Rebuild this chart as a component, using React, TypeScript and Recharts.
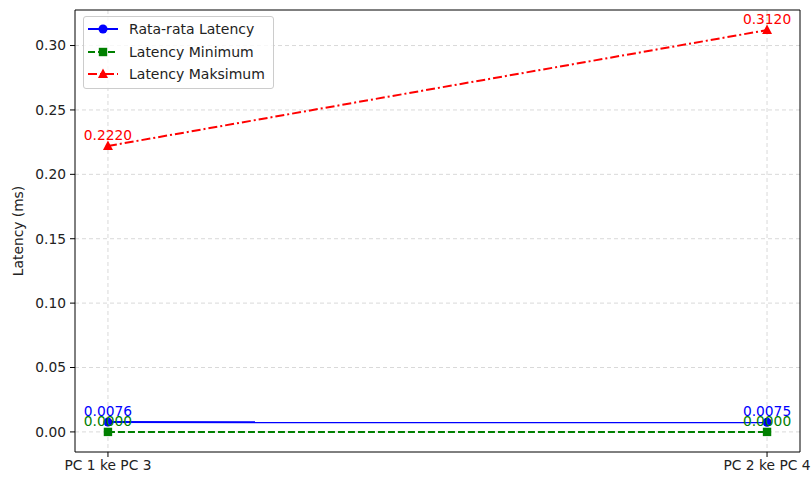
import React from "react";
import {
  Label,
  LabelList,
  Legend,
  Line,
  LineChart,
  CartesianGrid,
  ReferenceArea,
  XAxis,
  YAxis
} from "recharts";

const categories = ["PC 1 ke PC 3", "PC 2 ke PC 4"];
const avgLatency = [0.0076, 0.0075];
const minLatency = [0.0, 0.0];
const maxLatency = [0.222, 0.312];
const yTicks = [0, 0.05, 0.1, 0.15, 0.2, 0.25, 0.3];

const data = categories.map((name, i) => ({
  idx: i,
  name,
  avg: avgLatency[i],
  min: minLatency[i],
  max: maxLatency[i]
}));

const font = "'DejaVu Sans', sans-serif";
const X_DOMAIN: [number, number] = [-0.05, 1.05];
const span = 0.312;
const Y_DOMAIN: [number, number] = [-0.05 * span, 0.312 + 0.05 * span];

const series = [
  { key: "avg", name: "Rata-rata Latency", color: "#0000ff", dash: undefined, marker: "circle" },
  { key: "min", name: "Latency Minimum", color: "#008000", dash: "7 3", marker: "square" },
  { key: "max", name: "Latency Maksimum", color: "#ff0000", dash: "9 3 2 3", marker: "triangle" }
];

function Marker({ type, cx, cy, color }: { type: string; cx: number; cy: number; color: string }) {
  if (type === "square") return <rect x={cx - 4.2} y={cy - 4.2} width={8.4} height={8.4} fill={color} />;
  if (type === "triangle")
    return <polygon points={`${cx},${cy - 5.5} ${cx + 5},${cy + 4} ${cx - 5},${cy + 4}`} fill={color} />;
  return <circle cx={cx} cy={cy} r={4.5} fill={color} />;
}

const makeDot = (type: string, color: string) => (props: any) =>
  <Marker key={props.index} type={type} cx={props.cx} cy={props.cy} color={color} />;

function LegendBox() {
  return (
    <div
      style={{
        border: "1px solid #cccccc",
        borderRadius: 3,
        background: "rgba(255,255,255,0.8)",
        padding: "1px 8px 2px 4px",
        fontFamily: font,
        fontSize: 14,
        color: "#222"
      }}
    >
      {series.map((s) => (
        <div key={s.key} style={{ display: "flex", alignItems: "center", height: 22.5 }}>
          <svg width={30} height={12} style={{ marginRight: 11 }}>
            <line x1={0} y1={6} x2={30} y2={6} stroke={s.color} strokeWidth={2} strokeDasharray={s.dash} />
            <Marker type={s.marker} cx={15} cy={6} color={s.color} />
          </svg>
          <span>{s.name}</span>
        </div>
      ))}
    </div>
  );
}

export default function App() {
  return (
    <div style={{ position: "fixed", left: 0, top: 0, background: "#fff" }}>
      <LineChart width={812} height={479} data={data} margin={{ top: 10, right: 12, left: 0, bottom: 0 }}>
        <CartesianGrid stroke="#d9d9d9" strokeDasharray="4 3" verticalValues={[0, 1]} horizontalValues={yTicks} />
        <XAxis
          dataKey="idx"
          type="number"
          domain={X_DOMAIN}
          ticks={[0, 1]}
          tickFormatter={(v) => categories[v]}
          height={27}
          tickSize={5}
          tickMargin={3}
          tick={{ fill: "#222", fontSize: 13.8, fontFamily: font }}
          tickLine={{ stroke: "#000" }}
          axisLine={false}
          allowDataOverflow
        />
        <YAxis
          type="number"
          domain={Y_DOMAIN}
          ticks={yTicks}
          tickFormatter={(v) => v.toFixed(2)}
          width={75}
          tickSize={5}
          tickMargin={4}
          tick={{ fill: "#222", fontSize: 13.8, fontFamily: font }}
          tickLine={{ stroke: "#000" }}
          axisLine={false}
          allowDataOverflow
        >
          <Label
            content={(props: any) => {
              const vb = props.viewBox;
              const cy = vb.y + vb.height / 2;
              return (
                <text
                  x={18}
                  y={cy}
                  transform={`rotate(-90, 18, ${cy})`}
                  textAnchor="middle"
                  dominantBaseline="central"
                  fontFamily={font}
                  fontSize={13.8}
                  fill="#222"
                >
                  Latency (ms)
                </text>
              );
            }}
          />
        </YAxis>
        <ReferenceArea
          x1={X_DOMAIN[0]}
          x2={X_DOMAIN[1]}
          y1={Y_DOMAIN[0]}
          y2={Y_DOMAIN[1]}
          fill="none"
          stroke="#000"
          strokeWidth={1}
          ifOverflow="visible"
        />
        {series.map((s) => (
          <Line
            key={s.key}
            dataKey={s.key}
            name={s.name}
            type="linear"
            stroke={s.color}
            strokeWidth={2}
            strokeDasharray={s.dash}
            dot={makeDot(s.marker, s.color)}
            activeDot={false}
            isAnimationActive={false}
          >
            <LabelList
              dataKey={s.key}
              position="top"
              offset={6}
              formatter={(v: any) => Number(v).toFixed(4)}
              fill={s.color}
              fontSize={13.8}
              fontFamily={font}
            />
          </Line>
        ))}
        <Legend
          layout="vertical"
          align="center"
          verticalAlign="middle"
          content={() => <LegendBox />}
          wrapperStyle={{ left: 83, top: 16, width: "auto", height: "auto" }}
        />
      </LineChart>
    </div>
  );
}
